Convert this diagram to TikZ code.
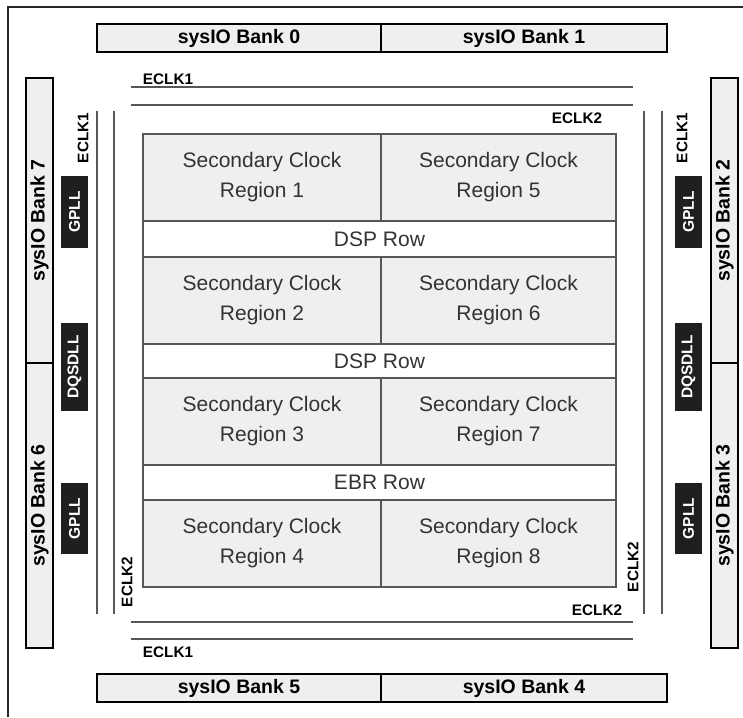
\documentclass[tikz,border=0pt]{standalone}
\usepackage{fontspec}
\setmainfont{Liberation Sans}
\usetikzlibrary{positioning}
\definecolor{wire}{HTML}{575757}
\definecolor{pad}{HTML}{EFEFEF}
\definecolor{ink}{HTML}{333333}
\tikzset{
frame/.style = {draw=black!85, line width=1.2pt},
bank/.style = {draw=black, fill=pad, line width=1.2pt, inner sep=0pt,
               font=\fontsize{19.5}{22}\selectfont\bfseries},
pll/.style = {fill=black!88, text=white, inner sep=0pt, rotate=90,
              font=\fontsize{15.5}{18}\selectfont\bfseries},
region/.style = {draw=wire, fill=pad, line width=1.3pt, align=center, text=ink,
                 font=\fontsize{21}{30}\selectfont},
row/.style = {draw=wire, fill=white, line width=1.3pt, text=ink,
              font=\fontsize{21}{24}\selectfont},
eclk/.style = {draw=wire, line width=2pt},
clk/.style = {inner sep=0pt, font=\fontsize{15.3}{18}\selectfont\bfseries}
}
% block centred at #3, width #4, height #5
\newcommand{\cell}[6]{\node[#1, minimum width=#4, minimum height=#5] (#2) at (#3) {#6};}
\newcommand{\wire}[2]{\draw[eclk] (#1) -- (#2);}

\begin{document}
\begin{tikzpicture}[x=1pt, y=-1pt]
    \useasboundingbox (0,0) rectangle (743,717);
    \draw[frame] (8,717) |- (743,7);

    % sysIO banks
    \cell{bank}{b0}{239,38}{284}{28}{sysIO Bank 0};
    \cell{bank}{b1}{524,38}{286}{28}{sysIO Bank 1};
    \cell{bank}{b5}{239,688}{284}{28}{sysIO Bank 5};
    \cell{bank}{b4}{524,688}{286}{28}{sysIO Bank 4};
    \cell{bank, rotate=90}{b7}{39.5,220.5}{285}{27}{sysIO Bank 7};
    \cell{bank, rotate=90}{b6}{39.5,505.5}{285}{27}{sysIO Bank 6};
    \cell{bank, rotate=90}{b2}{724.5,220.5}{285}{27}{sysIO Bank 2};
    \cell{bank, rotate=90}{b3}{724.5,505.5}{285}{27}{sysIO Bank 3};

    % PLL / DLL
    \cell{pll}{gpllLT}{74.5,212}{72}{27}{GPLL};
    \cell{pll}{dllL}{74.5,367}{88}{27}{DQSDLL};
    \cell{pll}{gpllLB}{74.5,518.5}{71}{27}{GPLL};
    \cell{pll}{gpllRT}{688.5,212}{72}{27}{GPLL};
    \cell{pll}{dllR}{688.5,367}{88}{27}{DQSDLL};
    \cell{pll}{gpllRB}{688.5,518.5}{71}{27}{GPLL};

    % edge clocks
    \wire{131,87}{633,87};
    \wire{131,105}{633,105};
    \wire{131,622}{633,622};
    \wire{131,639}{633,639};
    \wire{97,111}{97,614};
    \wire{114,111}{114,614};
    \wire{644,111}{644,614};
    \wire{662,111}{662,614};
    \node[clk] (e1t) at (168,79) {ECLK1};
    \node[clk] (e2t) at (577,118) {ECLK2};
    \node[clk] (e2b) at (597,610) {ECLK2};
    \node[clk] (e1b) at (168,652) {ECLK1};
    \node[clk, rotate=90] (e1l) at (83,138) {ECLK1};
    \node[clk, rotate=90] (e2l) at (127,582) {ECLK2};
    \node[clk, rotate=90] (e1r) at (682,138) {ECLK1};
    \node[clk, rotate=90] (e2r) at (633,567) {ECLK2};

    % clock regions
    \foreach \n/\y in {1/177.5, 2/300.5, 3/421.5, 4/543.5} {
        \pgfmathtruncatemacro{\m}{\n+4}
        \cell{region}{r\n}{262,\y}{238}{87}{Secondary Clock\\Region \n};
        \cell{region}{r\m}{498.5,\y}{235}{87}{Secondary Clock\\Region \m};
    }
    \cell{row}{dsp1}{379.5,239}{473}{36}{DSP Row};
    \cell{row}{dsp2}{379.5,361}{473}{34}{DSP Row};
    \cell{row}{ebr}{379.5,482.5}{473}{35}{EBR Row};
\end{tikzpicture}
\end{document}
